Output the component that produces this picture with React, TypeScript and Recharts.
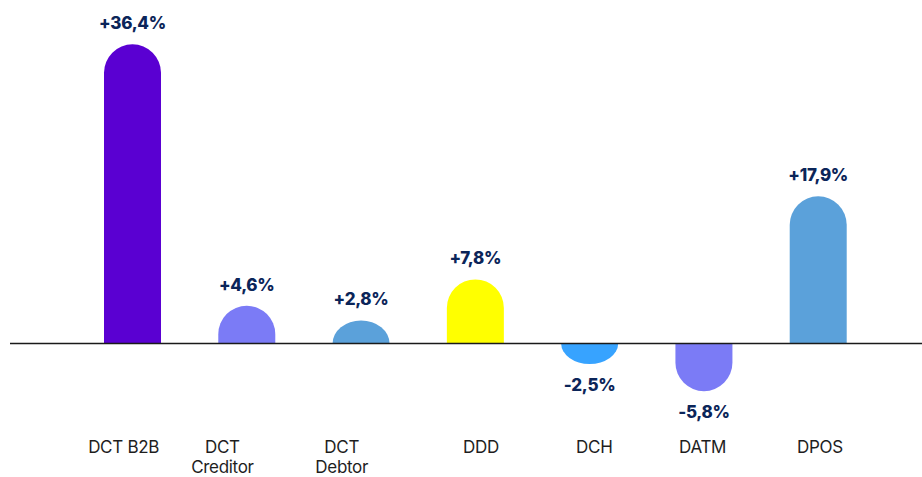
import React from "react";
import { BarChart, Bar, XAxis, YAxis, ReferenceLine, Cell, LabelList } from "recharts";

const categories = ["DCT B2B", "DCT\nCreditor", "DCT\nDebtor", "DDD", "DCH", "DATM", "DPOS"];
const values = [36.4, 4.6, 2.8, 7.8, -2.5, -5.8, 17.9];
const colors = ["#5A00D2", "#7B7BF6", "#5BA1DA", "#FFFF00", "#37A3FF", "#7B7BF6", "#5BA1DA"];
const tickNudge = [-8.5, -24, -19, 6, 5, -1, 2];

const data = categories.map((c, i) => ({ name: c, value: values[i] }));

const fmt = (v: number) => (v > 0 ? "+" : "") + v.toFixed(1).replace(".", ",") + "%";

const DomeBar = (props: any) => {
  const { x, y, width, height, fill } = props;
  const top = Math.min(y, y + height);
  const bottom = Math.max(y, y + height);
  const h = bottom - top;
  const rx = width / 2;
  const ry = Math.min(rx, h);
  const positive = props.value !== undefined ? (Array.isArray(props.value) ? props.value[1] >= props.value[0] : props.value >= 0) : height >= 0;
  let d = "";
  if (positive) {
    d = `M${x},${bottom} L${x},${top + ry} A${rx},${ry} 0 0 1 ${x + width},${top + ry} L${x + width},${bottom} Z`;
  } else {
    d = `M${x},${top} L${x},${bottom - ry} A${rx},${ry} 0 0 0 ${x + width},${bottom - ry} L${x + width},${top} Z`;
  }
  return <path d={d} fill={fill} />;
};

const ValueLabel = (props: any) => {
  const { x, y, width, height, value } = props;
  const top = Math.min(y, y + height);
  const bottom = Math.max(y, y + height);
  const cy = value >= 0 ? top - 21 : bottom + 21;
  return (
    <text
      x={x + width / 2}
      y={cy}
      textAnchor="middle"
      dominantBaseline="central"
      fill="#0B2559"
      fontFamily="Inter, 'Noto Sans', sans-serif"
      fontWeight={800}
      fontSize={17}
      letterSpacing={-0.3}
    >
      {fmt(value)}
    </text>
  );
};

const Tick = (props: any) => {
  const { x, y, payload, index } = props;
  const lines = String(payload.value).split("\n");
  const nx = x + (tickNudge[index] || 0);
  return (
    <text
      x={nx}
      y={y}
      textAnchor="middle"
      fill="#1E1E1E"
      fontFamily="Inter, 'Noto Sans', sans-serif"
      fontSize={17}
      letterSpacing={-0.3}
    >
      {lines.map((l, i) => (
        <tspan key={i} x={nx} y={y + 21.5 + i * 20} dominantBaseline="central">
          {l}
        </tspan>
      ))}
    </text>
  );
};

export default function App() {
  return (
    <div style={{ position: "absolute", left: 0, top: 0, width: 922, height: 477, background: "#fff" }}>
      <BarChart
        width={922}
        height={477}
        data={data}
        margin={{ top: 14.7, right: 0, bottom: 21.3, left: 10 }}
        style={{ overflow: "visible" }}
      >
        <XAxis
          dataKey="name"
          axisLine={false}
          tickLine={false}
          tickSize={0}
          tickMargin={0}
          height={30}
          interval={0}
          padding={{ left: 65, right: 47 }}
          tick={<Tick />}
        />
        <YAxis hide width={0} domain={[-10, 40]} />
        <ReferenceLine y={0} stroke="#1A1A1A" strokeWidth={1.5} />
        <Bar dataKey="value" barSize={57} isAnimationActive={false} shape={<DomeBar />}>
          {data.map((d, i) => (
            <Cell key={i} fill={colors[i]} />
          ))}
          <LabelList dataKey="value" content={<ValueLabel />} />
        </Bar>
      </BarChart>
    </div>
  );
}
